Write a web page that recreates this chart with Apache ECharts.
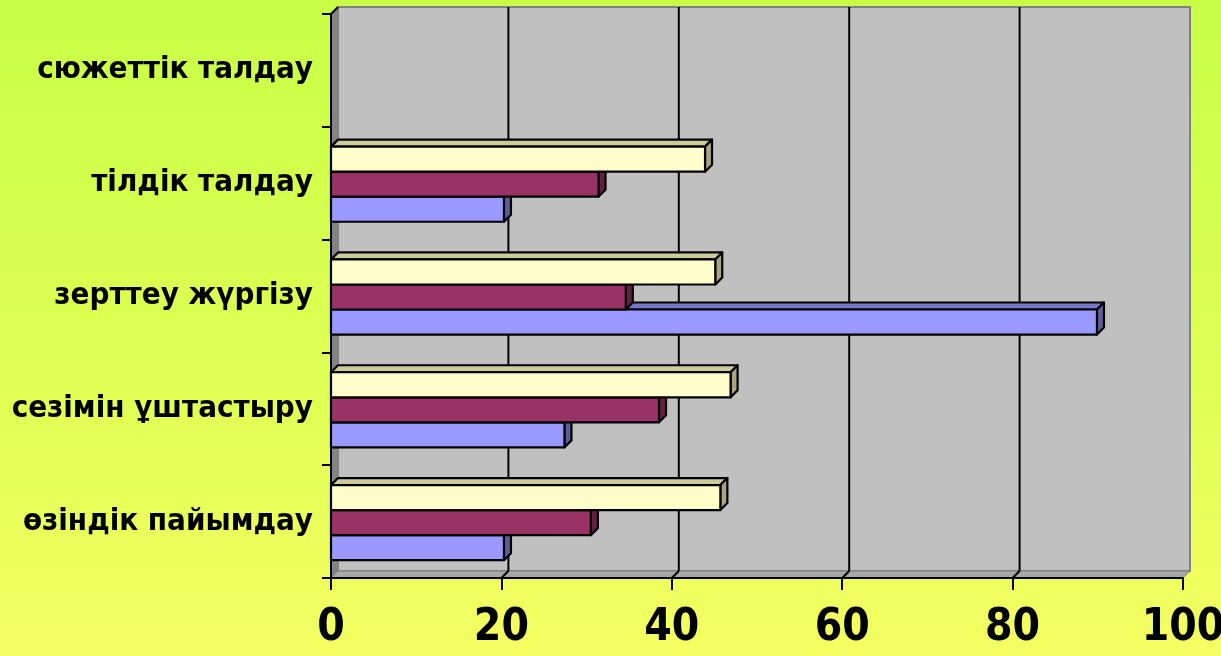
<!DOCTYPE html>
<html>
<head>
<meta charset="utf-8">
<script src="https://cdn.jsdelivr.net/npm/echarts@6/dist/echarts.min.js"></script>
<style>
  html, body { margin: 0; padding: 0; }
  #chart { width: 1221px; height: 656px; }
</style>
</head>
<body>
<div id="chart"></div>
<script>
// categories bottom -> top
const categories = ['өзіндік пайымдау', 'сезімін ұштастыру', 'зерттеу жүргізу', 'тілдік талдау', 'сюжеттік талдау']
const blueVals = [20.3, 27.4, 89.9, 20.3, null]
const maroonVals = [30.5, 38.5, 34.6, 31.4, null]
const yellowVals = [45.7, 46.9, 45.1, 43.9, null]
const xTicks = [0, 20, 40, 60, 80, 100]

const DEPTH = 7
const LABEL_FONT = '"DejaVu Sans Condensed", "Liberation Sans", sans-serif'

const chart = echarts.init(document.getElementById('chart'))

// back wall, side wall, floor and gridlines
const renderWall = (params, api) => {
  const cs = params.coordSys
  const x = cs.x, y = cs.y, W = cs.width, H = cs.height, d = DEPTH
  const children = [
    { type: 'rect', shape: { x: x + d, y: y - d, width: W, height: H },
      style: { fill: '#c0c0c0', stroke: '#808080', lineWidth: 2 } },
    { type: 'polygon', shape: { points: [[x, y], [x + d, y - d], [x + d, y + H - d], [x, y + H]] },
      style: { fill: '#848484', stroke: '#808080', lineWidth: 1 } },
    { type: 'polygon', shape: { points: [[x, y + H], [x + d, y + H - d], [x + W + d, y + H - d], [x + W, y + H]] },
      style: { fill: '#a8a8a8', stroke: '#808080', lineWidth: 1 } },
    { type: 'line', shape: { x1: x, y1: y, x2: x + d, y2: y - d },
      style: { stroke: '#000', lineWidth: 2 } },
  ]
  xTicks.slice(1, -1).forEach((t) => {
    const px = api.coord([t, 0])[0]
    children.push({ type: 'line', shape: { x1: px + d, y1: y - d, x2: px + d, y2: y + H - d },
      style: { stroke: '#000', lineWidth: 2 } })
    children.push({ type: 'line', shape: { x1: px + d, y1: y + H - d, x2: px, y2: y + H },
      style: { stroke: '#000', lineWidth: 2 } })
  })
  return { type: 'group', children }
}

// 3d-ish bar: k = slot from bottom (0 blue, 1 maroon, 2 yellow)
const makeBar = (k, front, top, side) => (params, api) => {
  const v = api.value(1)
  if (v == null || isNaN(v)) return
  const c = api.value(0)
  const p0 = api.coord([0, c])
  const p1 = api.coord([v, c])
  const h = api.size([0, 1])[1] * 0.222
  const d = DEPTH
  const x0 = p0[0], x1 = p1[0]
  const ty = p0[1] + 1 + (0.5 - k) * h
  const st = { stroke: '#000', lineWidth: 2.2, lineJoin: 'round' }
  return {
    type: 'group',
    children: [
      { type: 'polygon', shape: { points: [[x0, ty], [x0 + d, ty - d], [x1 + d, ty - d], [x1, ty]] },
        style: Object.assign({ fill: top }, st) },
      { type: 'polygon', shape: { points: [[x1, ty], [x1 + d, ty - d], [x1 + d, ty + h - d], [x1, ty + h]] },
        style: Object.assign({ fill: side }, st) },
      { type: 'rect', shape: { x: x0, y: ty, width: x1 - x0, height: h },
        style: Object.assign({ fill: front }, st) },
    ],
  }
}

const toData = (vals) => vals.map((v, i) => [i, v == null ? '-' : v])

chart.setOption({
  animation: false,
  backgroundColor: {
    type: 'linear', x: 0, y: 0, x2: 0, y2: 1,
    colorStops: [
      { offset: 0, color: '#c8ff46' },
      { offset: 0.5, color: '#dcff52' },
      { offset: 1, color: '#f4ff62' },
    ],
  },
  grid: { left: 331, right: 38, top: 14, bottom: 78, outerBoundsMode: 'none', containLabel: false },
  xAxis: {
    type: 'value',
    min: 0,
    max: 100,
    interval: 20,
    z: 10,
    splitLine: { show: false },
    axisLine: { show: true, lineStyle: { color: '#000', width: 2 } },
    axisTick: { show: true, length: 12, lineStyle: { color: '#000', width: 2 } },
    axisLabel: { color: '#000', fontSize: 44, fontWeight: 'bold', fontFamily: LABEL_FONT, margin: 29 },
  },
  yAxis: {
    type: 'category',
    data: categories,
    z: 10,
    axisLine: { show: true, lineStyle: { color: '#000', width: 2 } },
    axisTick: { show: true, length: 9, lineStyle: { color: '#000', width: 2 } },
    axisLabel: { color: '#000', fontSize: 31, fontWeight: 'bold', fontFamily: LABEL_FONT, margin: 18 },
    splitLine: { show: false },
  },
  series: [
    { type: 'custom', renderItem: renderWall, data: [[0, 0]], encode: { x: 1, y: 0 }, clip: false, silent: true, z: 1 },
    { type: 'custom', renderItem: makeBar(0, '#9999ff', '#7777cc', '#5c5c99'), data: toData(blueVals), encode: { x: 1, y: 0 }, z: 2 },
    { type: 'custom', renderItem: makeBar(1, '#993366', '#7a2952', '#661f44'), data: toData(maroonVals), encode: { x: 1, y: 0 }, z: 2 },
    { type: 'custom', renderItem: makeBar(2, '#ffffcc', '#cccc99', '#a6a680'), data: toData(yellowVals), encode: { x: 1, y: 0 }, z: 2 },
  ],
})

window.addEventListener('resize', () => chart.resize())
</script>
</body>
</html>
